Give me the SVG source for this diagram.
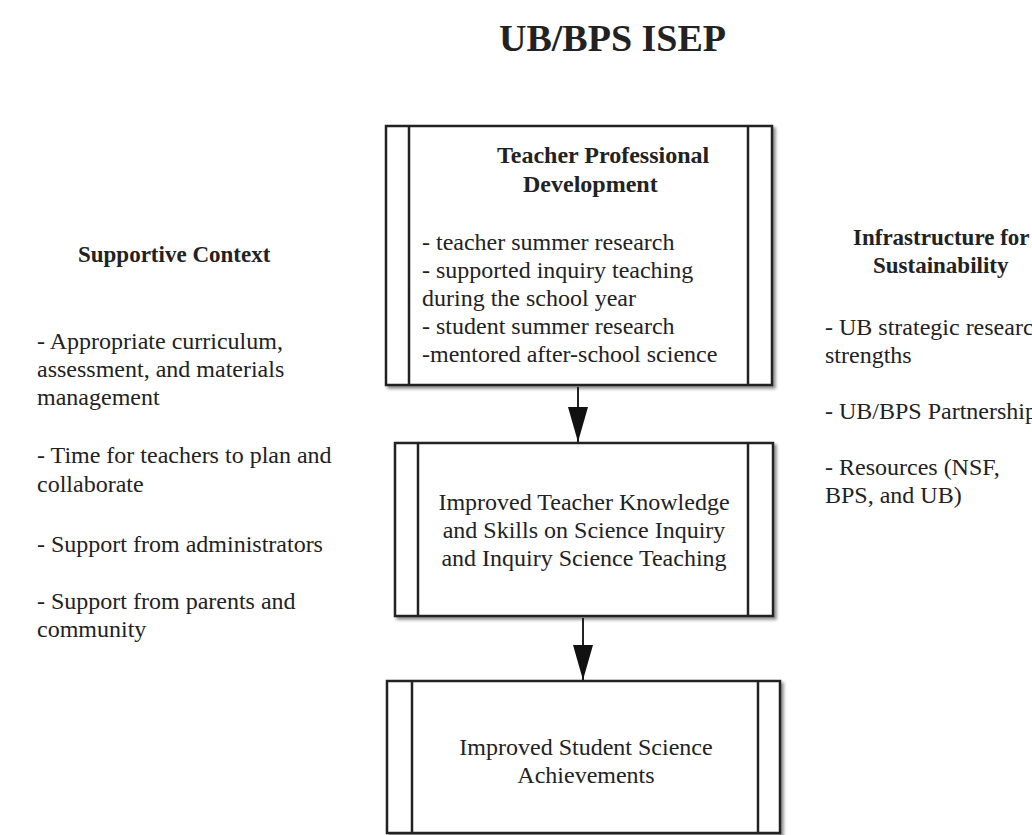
<svg xmlns="http://www.w3.org/2000/svg" width="1032" height="835" viewBox="0 0 1032 835">
<style>
.t{font-family:"Liberation Serif","Times New Roman",serif;font-size:24px;fill:#222}
.b{font-weight:bold}
.h{font-family:"Liberation Serif","Times New Roman",serif;font-size:23px;font-weight:bold;fill:#222}
.frame{fill:#fff;stroke:#222;stroke-width:2.5;filter:url(#sh)}
.bar{stroke:#222;stroke-width:2.5;fill:none}
.conn{stroke:#222;stroke-width:2;fill:none}
</style>
<defs>
<filter id="sh" x="-5%" y="-5%" width="115%" height="115%">
<feDropShadow dx="2.5" dy="2.5" stdDeviation="1.5" flood-color="#000" flood-opacity="0.45"/>
</filter>
<marker id="arr" markerWidth="35" markerHeight="20" refX="35" refY="10" orient="auto" markerUnits="userSpaceOnUse" viewBox="0 0 35 20">
<path d="M0,0 L35,10 L0,20 Z" fill="#111"/>
</marker>
</defs>
<rect width="1032" height="835" fill="#fff"/>
<text class="t b" x="499" y="51" style="font-size:38px">UB/BPS ISEP</text>

<g id="supportive-context">
<text class="h" x="78" y="262">Supportive Context</text>
<text class="t" x="37" y="349">- Appropriate curriculum,</text>
<text class="t" x="37" y="377">assessment, and materials</text>
<text class="t" x="37" y="405">management</text>
<text class="t" x="37" y="463">- Time for teachers to plan and</text>
<text class="t" x="37" y="492">collaborate</text>
<text class="t" x="37" y="552">- Support from administrators</text>
<text class="t" x="37" y="609">- Support from parents and</text>
<text class="t" x="37" y="637">community</text>
</g>

<g id="infrastructure">
<text class="h" x="853" y="245">Infrastructure for</text>
<text class="h" x="873" y="273">Sustainability</text>
<text class="t" x="825" y="335">- UB strategic research</text>
<text class="t" x="825" y="363">strengths</text>
<text class="t" x="825" y="419">- UB/BPS Partnership</text>
<text class="t" x="825" y="475">- Resources (NSF,</text>
<text class="t" x="825" y="503">BPS, and UB)</text>
</g>

<g id="teacher-pd">
<rect class="frame" x="386" y="126" width="386" height="259"/>
<line class="bar" x1="409" y1="126" x2="409" y2="385"/>
<line class="bar" x1="748" y1="126" x2="748" y2="385"/>
<text class="t b" x="497" y="163">Teacher Professional</text>
<text class="t b" x="523" y="192">Development</text>
<text class="t" x="422" y="250">- teacher summer research</text>
<text class="t" x="422" y="278">- supported inquiry teaching</text>
<text class="t" x="422" y="306">during the school year</text>
<text class="t" x="422" y="334">- student summer research</text>
<text class="t" x="422" y="362">-mentored after-school science</text>
</g>

<g id="teacher-knowledge">
<rect class="frame" x="395" y="443" width="378" height="173"/>
<line class="bar" x1="418" y1="443" x2="418" y2="616"/>
<line class="bar" x1="748" y1="443" x2="748" y2="616"/>
<text class="t" x="584" y="510" text-anchor="middle">Improved Teacher Knowledge</text>
<text class="t" x="584" y="538" text-anchor="middle">and Skills on Science Inquiry</text>
<text class="t" x="584" y="566" text-anchor="middle">and Inquiry Science Teaching</text>
</g>

<g id="student-achievement">
<rect class="frame" x="387" y="681" width="393" height="152"/>
<line class="bar" x1="412" y1="681" x2="412" y2="833"/>
<line class="bar" x1="758" y1="681" x2="758" y2="833"/>
<text class="t" x="586" y="755" text-anchor="middle">Improved Student Science</text>
<text class="t" x="586" y="783" text-anchor="middle">Achievements</text>
</g>

<g id="connectors">
<line class="conn" x1="578" y1="387" x2="578" y2="442" marker-end="url(#arr)"/>
<line class="conn" x1="583" y1="618" x2="583" y2="680" marker-end="url(#arr)"/>
</g>
</svg>
